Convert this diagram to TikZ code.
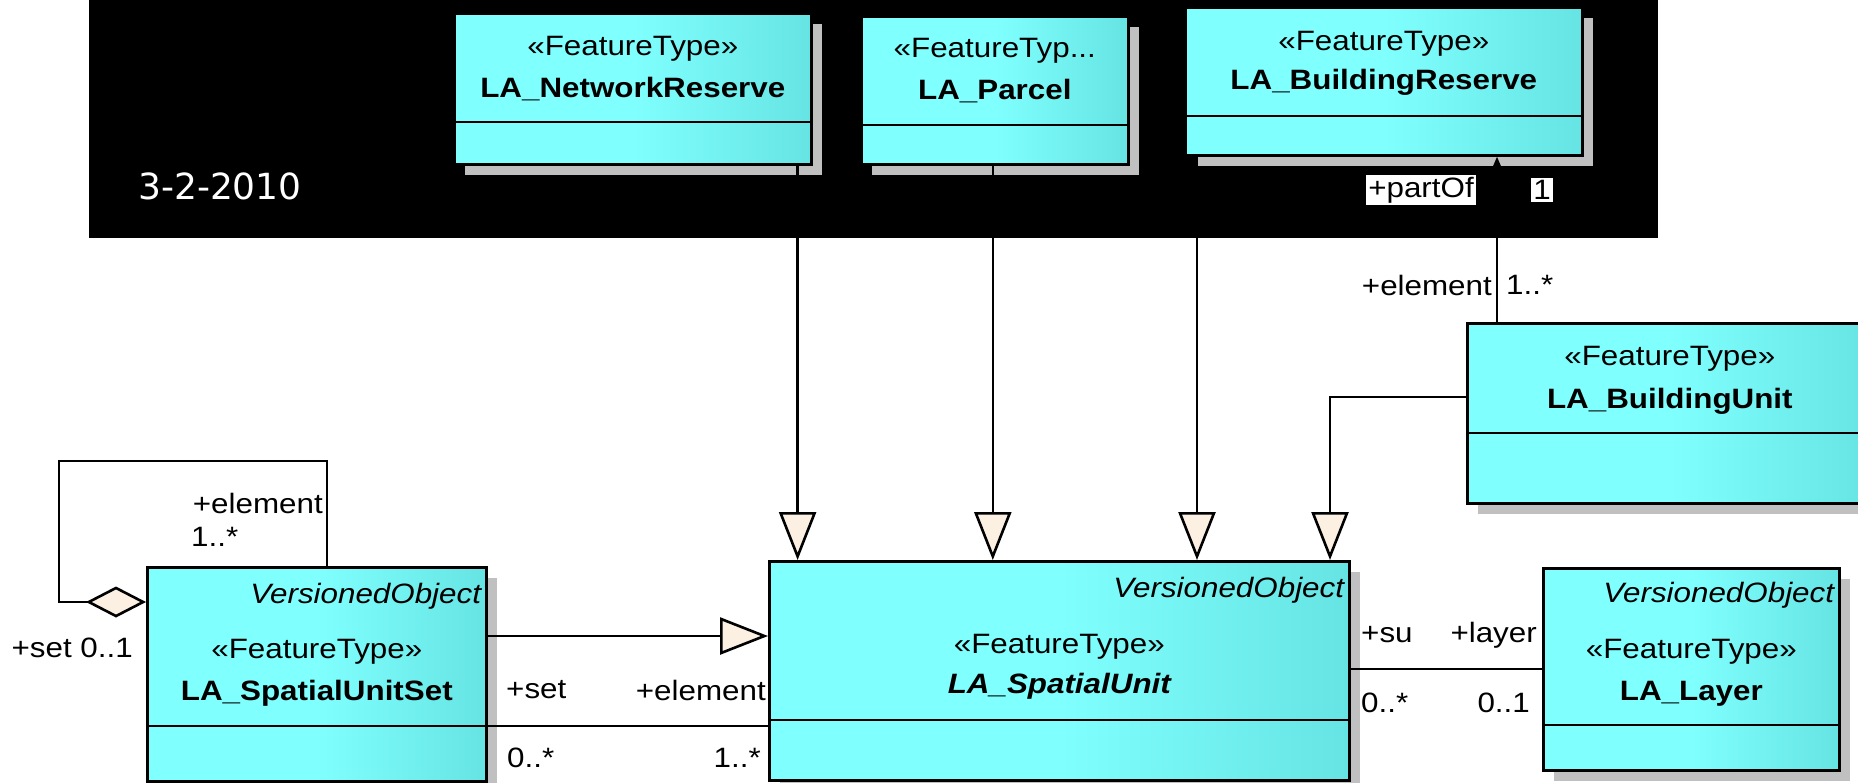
\documentclass[tikz,border=0pt]{standalone}
\usepackage{fontspec}
\setmainfont{Liberation Sans}[FakeStretch=1.12]
\newfontfamily\datefont{DejaVu Sans}
\usetikzlibrary{calc,arrows.meta}

\definecolor{umlcyan}{RGB}{128,255,255}
\definecolor{umlcyandark}{RGB}{102,228,228}
\definecolor{shadowgrey}{RGB}{192,192,192}
\definecolor{cream}{RGB}{251,240,226}

\tikzset{
  cls/.style={anchor=north west, draw=black, line width=2.6pt,
    left color=umlcyan, right color=umlcyandark, middle color=umlcyan,
    preaction={fill=shadowgrey, transform canvas={shift={(11pt,-11pt)}}}},
  sep/.style={line width=2.6pt},
  gen/.style={line width=2.6pt, -{Triangle[length=48pt,width=37pt,fill=cream]}},
  agg/.style={line width=2.6pt, {Diamond[length=60pt,width=31pt,fill=cream]}-},
  assoc/.style={line width=2.6pt},
  nav/.style={line width=2.6pt, -{Triangle[length=14pt,width=11pt]}},
  role/.style={inner sep=1pt},
  tag/.style={fill=white, inner sep=2pt}
}

\begin{document}
\begin{tikzpicture}[x=1pt,y=-1pt,font=\fontsize{28}{32}\selectfont]
      \useasboundingbox (0,0) rectangle (1858,782);
      \clip (0,0) rectangle (1858,782);
      %fond
      \fill[black] (89,0) rectangle (1658,238);
      \node[text=white, font=\datefont\fontsize{36}{40}\selectfont] (DT) at (220,186) {3-2-2010};
      %classes
      \node[cls, minimum width=357pt, minimum height=151pt] (NR) at (453,12) {};
      \draw[sep] ($(NR.north west)+(0,110)$) -- ($(NR.north east)+(0,110)$);
      \node[anchor=base] (NRs) at ($(NR.north)+(0,43)$) {«FeatureType»};
      \node[anchor=base] (NRn) at ($(NR.north)+(0,85)$) {\bfseries LA\_NetworkReserve};
      \node[cls, minimum width=267pt, minimum height=148pt] (PA) at (860,15) {};
      \draw[sep] ($(PA.north west)+(0,110)$) -- ($(PA.north east)+(0,110)$);
      \node[anchor=base] (PAs) at ($(PA.north)+(0,42)$) {«FeatureTyp...};
      \node[anchor=base] (PAn) at ($(PA.north)+(0,84)$) {\bfseries LA\_Parcel};
      \node[cls, minimum width=397pt, minimum height=148pt] (BR) at (1184,6) {};
      \draw[sep] ($(BR.north west)+(0,110)$) -- ($(BR.north east)+(0,110)$);
      \node[anchor=base] (BRs) at ($(BR.north)+(0,44)$) {«FeatureType»};
      \node[anchor=base] (BRn) at ($(BR.north)+(0,83)$) {\bfseries LA\_BuildingReserve};
      \node[cls, minimum width=405pt, minimum height=180pt] (BU) at (1466,322) {};
      \draw[sep] ($(BU.north west)+(0,111)$) -- ($(BU.north east)+(0,111)$);
      \node[anchor=base] (BUs) at ($(BU.north)+(0,43)$) {«FeatureType»};
      \node[anchor=base] (BUn) at ($(BU.north)+(0,86)$) {\bfseries LA\_BuildingUnit};
      \node[cls, minimum width=339pt, minimum height=214pt] (SS) at (146,566) {};
      \draw[sep] ($(SS.north west)+(0,160)$) -- ($(SS.north east)+(0,160)$);
      \node[anchor=base east] (SSv) at ($(SS.north east)+(-3,37)$) {\itshape VersionedObject};
      \node[anchor=base] (SSs) at ($(SS.north)+(0,92)$) {«FeatureType»};
      \node[anchor=base] (SSn) at ($(SS.north)+(0,134)$) {\bfseries LA\_SpatialUnitSet};
      \node[cls, minimum width=580pt, minimum height=219pt] (SU) at (768,560) {};
      \draw[sep] ($(SU.north west)+(0,160)$) -- ($(SU.north east)+(0,160)$);
      \node[anchor=base east] (SUv) at ($(SU.north east)+(-3,37)$) {\itshape VersionedObject};
      \node[anchor=base] (SUs) at ($(SU.north)+(0,93)$) {«FeatureType»};
      \node[anchor=base] (SUn) at ($(SU.north)+(0,133)$) {\bfseries\itshape LA\_SpatialUnit};
      \node[cls, minimum width=296pt, minimum height=202pt] (LA) at (1542,567) {};
      \draw[sep] ($(LA.north west)+(0,158)$) -- ($(LA.north east)+(0,158)$);
      \node[anchor=base east] (LAv) at ($(LA.north east)+(-3,35)$) {\itshape VersionedObject};
      \node[anchor=base] (LAs) at ($(LA.north)+(0,91)$) {«FeatureType»};
      \node[anchor=base] (LAn) at ($(LA.north)+(0,133)$) {\bfseries LA\_Layer};
      %généralisations
      \draw[gen] ($(NR.south east)+(-15,0)$) coordinate (g1) -- (g1 |- SU.north);
      \draw[gen] ($(PA.south)+(-2,0)$) coordinate (g2) -- (g2 |- SU.north);
      \draw[gen] ($(BR.south west)+(13,0)$) coordinate (g3) -- (g3 |- SU.north);
      \draw[gen] ($(BU.north west)+(0,75)$) -| ($(SU.north west)+(562,0)$);
      \draw[gen] ($(SS.north east)+(0,70)$) coordinate (g5) -- (g5 -| SU.west);
      %associations
      \draw[nav] ($(BU.north west)+(31,0)$) coordinate (a1) -- (a1 |- BR.south);
      \draw[agg] ($(SS.north west)+(0,36)$) -- ++(-87,0) |- ($(SS.north west)+(181,-105)$) -- ($(SS.north west)+(181,0)$);
      \draw[assoc] ($(SS.north east)+(0,160)$) coordinate (a2) -- (a2 -| SU.west);
      \draw[assoc] ($(SU.north east)+(0,109)$) coordinate (a3) -- (a3 -| LA.west);
      %rôles et multiplicités
      \node[tag] (r1) at (1421,190) {+partOf}; \node[tag] (r2) at (1542,190) {1};
      \node[role, anchor=east] (r3) at (1493,285) {+element}; \node[role, anchor=west] (r4) at (1505,285) {1..*};
      \node[role, anchor=east] (r5) at (324,503) {+element}; \node[role, anchor=west] (r6) at (190,537) {1..*};
      \node[role, anchor=east] (r7) at (134,648) {+set 0..1};
      \node[role, anchor=west] (r8) at (505,690) {+set}; \node[role, anchor=east] (r9) at (767,690) {+element};
      \node[role, anchor=west] (r10) at (506,758) {0..*}; \node[role, anchor=east] (r11) at (762,758) {1..*};
      \node[role, anchor=west] (r12) at (1360,635) {+su}; \node[role, anchor=east] (r13) at (1538,635) {+layer};
      \node[role, anchor=west] (r14) at (1360,703) {0..*}; \node[role, anchor=east] (r15) at (1531,703) {0..1};
\end{tikzpicture}
\end{document}
